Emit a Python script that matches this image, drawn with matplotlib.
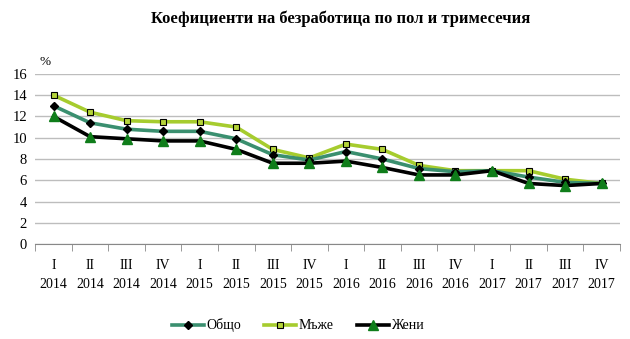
import matplotlib

matplotlib.use("Agg")
import matplotlib.pyplot as plt
import numpy as np

plt.rcParams["font.family"] = ["Liberation Serif", "DejaVu Serif"]

quarters = ["I", "II", "III", "IV"] * 4
years = ["2014"] * 4 + ["2015"] * 4 + ["2016"] * 4 + ["2017"] * 4
total = [13.0, 11.4, 10.8, 10.6, 10.6, 9.9, 8.4, 7.9, 8.7, 8.0, 7.1, 6.8, 6.9, 6.3, 5.8, 5.7]
men = [14.0, 12.4, 11.6, 11.5, 11.5, 11.0, 8.9, 8.1, 9.4, 8.9, 7.4, 6.9, 6.9, 6.9, 6.1, 5.7]
women = [12.0, 10.1, 9.9, 9.7, 9.7, 8.9, 7.6, 7.6, 7.8, 7.2, 6.5, 6.5, 6.9, 5.7, 5.5, 5.7]

fig = plt.figure(figsize=(6.3, 3.39), dpi=100)
ax = fig.add_axes([0.056, 0.28, 0.928, 0.502])
x = np.arange(len(total))

ax.plot(x, total, color="#3a8f6f", linewidth=2.6, marker="D", markersize=4.5,
        markerfacecolor="black", markeredgecolor="black", label="Общо", zorder=3)
ax.plot(x, men, color="#a6cc2e", linewidth=2.6, marker="s", markersize=5,
        markerfacecolor="#b5d43a", markeredgecolor="black", markeredgewidth=0.8,
        label="Мъже", zorder=2)
ax.plot(x, women, color="black", linewidth=2.6, marker="^", markersize=6.5,
        markerfacecolor="#0f7d1a", markeredgecolor="#0f7d1a", label="Жени", zorder=4)

ax.set_xlim(-0.5, len(total) - 0.5)
ax.set_ylim(0, 16)
ax.set_yticks(range(0, 17, 2))
ax.yaxis.grid(True, color="#bdbdbd", linewidth=1.0)
ax.set_axisbelow(True)
for s in ["top", "right", "left"]:
    ax.spines[s].set_visible(False)
ax.spines["bottom"].set_color("#888888")
ax.tick_params(axis="y", length=0, labelsize=10.5, pad=6)
ax.set_xticks(x)
ax.set_xticklabels([f"{q}\n{y}" for q, y in zip(quarters, years)], fontsize=10, linespacing=1.6)
ax.tick_params(axis="x", length=0, pad=11)
ax.set_xticks(np.arange(-0.5, len(total)), minor=True)
ax.tick_params(axis="x", which="minor", length=5, color="#888888")

ax.text(-0.38, 16.6, "%", fontsize=9.5, ha="left", va="bottom")
fig.text(0.54, 0.945, "Коефициенти на безработица по пол и тримесечия",
         ha="center", va="center", fontsize=12, fontweight="bold")
fig.legend(loc="center", bbox_to_anchor=(0.473, 0.04), ncol=3, frameon=False,
           fontsize=10, handlelength=2.3, columnspacing=1.7, handletextpad=0.15)

fig.savefig("out.png", dpi=100)
